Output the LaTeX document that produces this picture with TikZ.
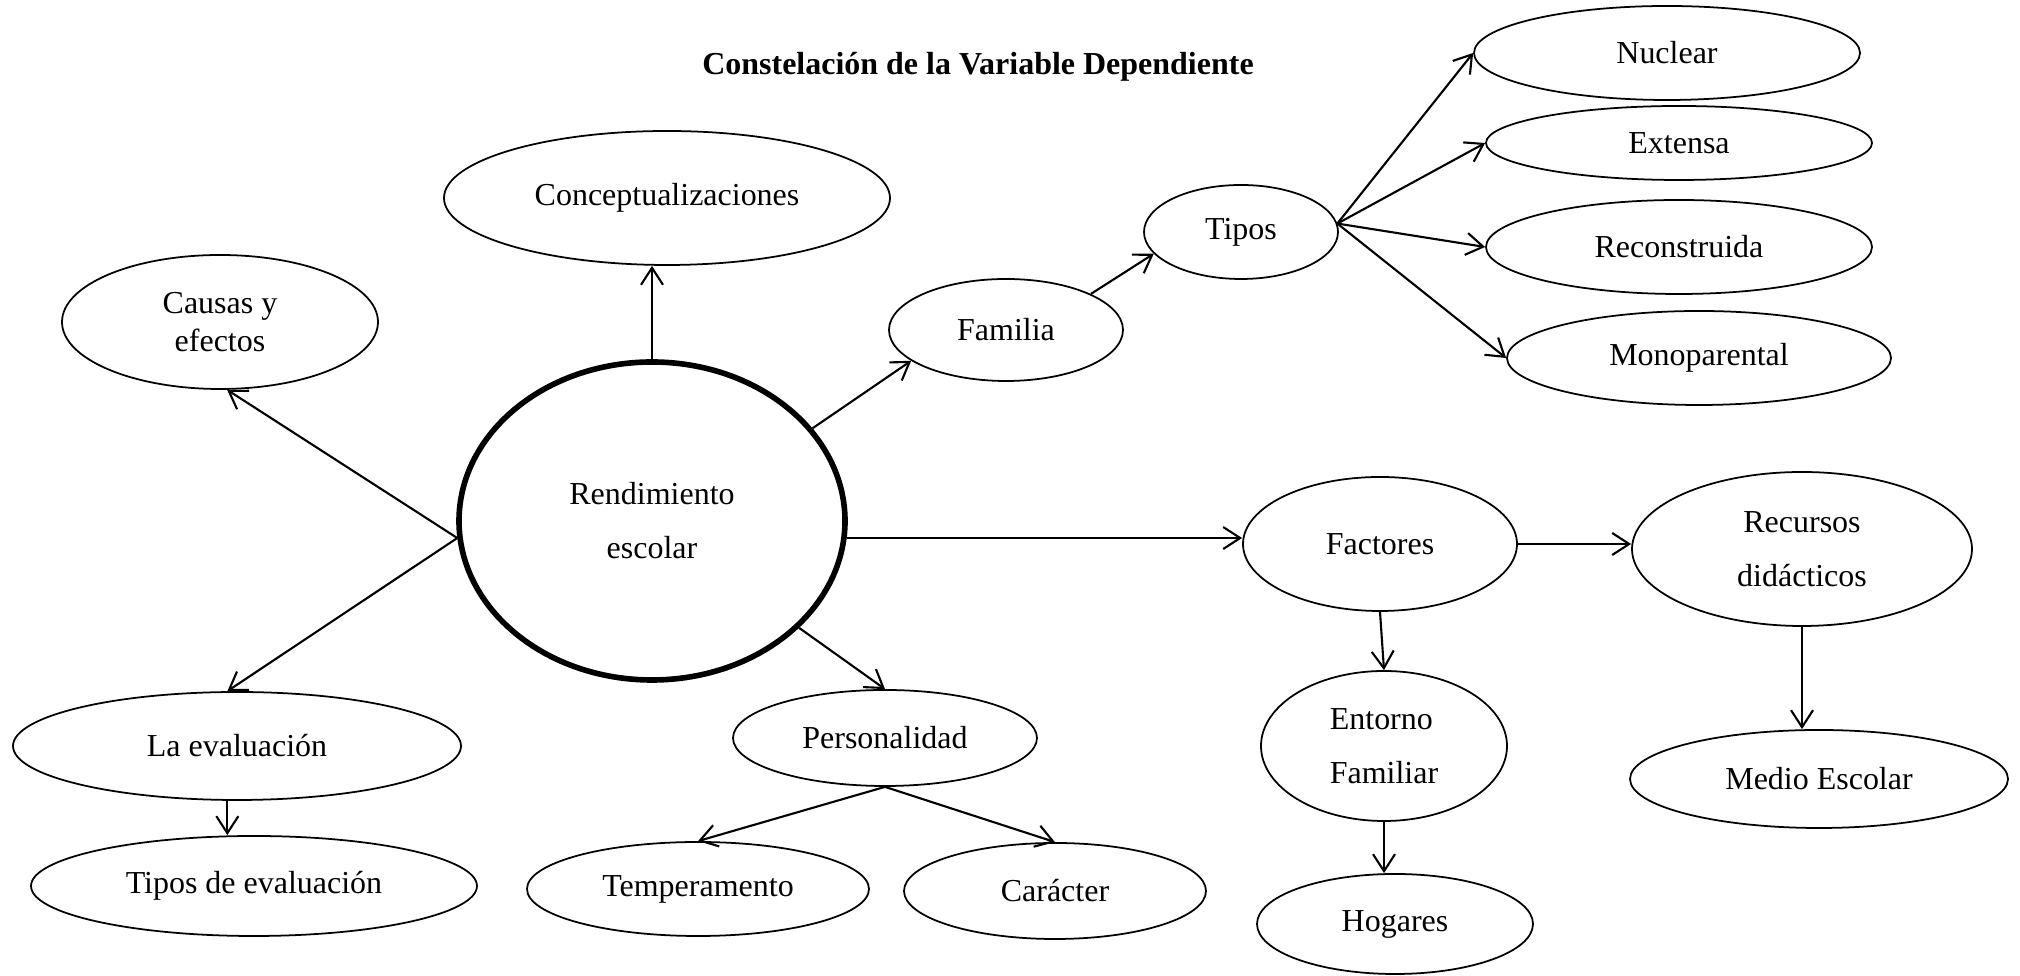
\documentclass[tikz,border=0pt]{standalone}
\usepackage{fontspec}
\setmainfont{Liberation Serif}
\usetikzlibrary{shapes.geometric, arrows.meta}

\begin{document}
\begin{tikzpicture}[
    >={Straight Barb[length=1.7mm, width=2.2mm]},
    bubble/.style={draw, ellipse, line width=0.5pt, inner sep=0pt,
      font=\fontsize{9.1}{11}\selectfont, align=center},
    link/.style={->, line width=0.6pt}
  ]

    \useasboundingbox (0, 0) rectangle (20.2, 9.76);

    \node[font=\fontsize{9.1}{11}\selectfont\bfseries] (title) at (9.78, 9.09)
    {Constelación de la Variable Dependiente};

    \node[bubble, line width=1.6pt, minimum width=3.86cm, minimum height=3.18cm]
    (rend) at (6.52, 4.55) {Rendimiento\\[4.4pt]escolar};

    \node[bubble, minimum width=4.46cm, minimum height=1.34cm] (conc) at (6.67, 7.78) {Conceptualizaciones};
    \node[bubble, minimum width=3.16cm, minimum height=1.34cm] (causas) at (2.20, 6.54) {Causas y\\efectos};
    \node[bubble, minimum width=4.48cm, minimum height=1.08cm] (evalua) at (2.37, 2.30) {La evaluación};
    \node[bubble, minimum width=4.46cm, minimum height=1.00cm] (tiposev) at (2.54, 0.90) {Tipos de evaluación};

    \node[bubble, minimum width=2.34cm, minimum height=1.02cm] (fam) at (10.06, 6.46) {Familia};
    \node[bubble, minimum width=1.94cm, minimum height=0.94cm] (tipos) at (12.41, 7.44) {Tipos};
    \node[bubble, minimum width=3.86cm, minimum height=0.94cm] (nuclear) at (16.67, 9.23) {Nuclear};
    \node[bubble, minimum width=3.86cm, minimum height=0.74cm] (extensa) at (16.79, 8.33) {Extensa};
    \node[bubble, minimum width=3.86cm, minimum height=0.94cm] (recons) at (16.79, 7.29) {Reconstruida};
    \node[bubble, minimum width=3.84cm, minimum height=0.94cm] (mono) at (16.99, 6.18) {Monoparental};

    \node[bubble, minimum width=3.04cm, minimum height=0.96cm] (person) at (8.85, 2.38) {Personalidad};
    \node[bubble, minimum width=3.42cm, minimum height=0.94cm] (temper) at (6.98, 0.87) {Temperamento};
    \node[bubble, minimum width=3.02cm, minimum height=0.96cm] (caracter) at (10.55, 0.85) {Carácter};

    \node[bubble, minimum width=2.74cm, minimum height=1.34cm] (fact) at (13.80, 4.32) {Factores};
    \node[bubble, minimum width=3.40cm, minimum height=1.54cm] (recur) at (18.02, 4.27) {Recursos\\[4.4pt]didácticos};
    \node[bubble, minimum width=2.46cm, minimum height=1.50cm, align=left] (entorno) at (13.84, 2.30) {Entorno\\[4.4pt]Familiar};
    \node[bubble, minimum width=2.76cm, minimum height=1.00cm] (hogares) at (13.95, 0.52) {Hogares};
    \node[bubble, minimum width=3.78cm, minimum height=0.98cm] (medio) at (18.19, 1.97) {Medio Escolar};

    \draw[link] (rend.north) -- (rend.north |- conc.south);
    \draw[link] (rend.185) -- (causas.-84);
    \draw[link] (rend.185) -- (evalua.100);
    \draw[link] (evalua.-100) -- (evalua.-100 |- tiposev.north);

    \draw[link] (rend.30) -- (fam.198);
    \draw[link] (fam.23) -- (tipos.194);
    \draw[link] (tipos.5) -- (nuclear.west);
    \draw[link] (tipos.5) -- (extensa.west);
    \draw[link] (tipos.5) -- (recons.west);
    \draw[link] (tipos.5) -- (mono.west);

    \draw[link] (rend.-36) -- (person.north);
    \draw[link] (person.south) -- (temper.north);
    \draw[link] (person.south) -- (caracter.north);

    \draw[link] (rend.-5) -- (rend.-5 -| fact.west);
    \draw[link] (fact.east) -- (fact.east -| recur.west);
    \draw[link] (fact.south) -- (entorno.north);
    \draw[link] (entorno.south) -- (entorno.south |- hogares.north);
    \draw[link] (recur.south) -- (recur.south |- medio.north);

  \end{tikzpicture}
\end{document}
